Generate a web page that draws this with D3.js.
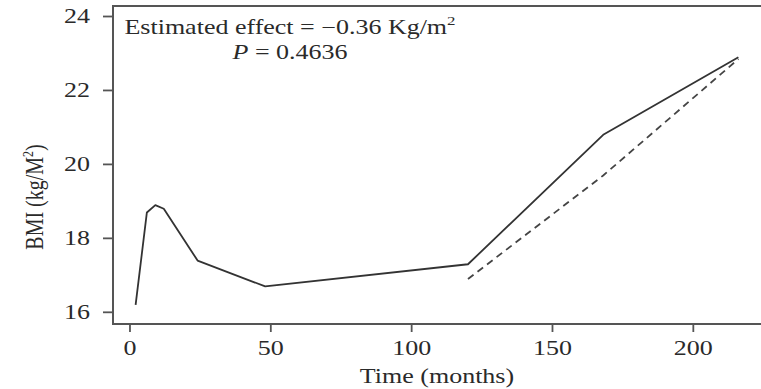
<!DOCTYPE html>
<html>
<head>
<meta charset="utf-8">
<script src="https://cdn.jsdelivr.net/npm/d3@7"></script>
<style>
  html, body { margin: 0; padding: 0; background: #fff; }
  svg { display: block; }
  text { font-family: "Liberation Serif", "DejaVu Serif", serif; fill: #2a2a2a; }
</style>
</head>
<body>
<svg id="chart" width="761" height="389"></svg>
<script>
// ---- data ----
const months = [2, 6, 9, 12, 24, 48, 120, 168, 216];
const bmiObserved = [16.2, 18.7, 18.9, 18.8, 17.4, 16.7, 17.3, 20.8, 22.9];
const projMonths = [120, 168, 216];
const bmiProjected = [16.9, 19.7, 22.85];
const xTicks = [0, 50, 100, 150, 200];
const yTicks = [16, 18, 20, 22, 24];
const xTitle = "Time (months)";
const annotLine1 = "Estimated effect = \u22120.36 Kg/m";
const annotLine2 = " = 0.4636";

(function () {
// ---- layout ----
const W = 761, H = 389;
const pLeft = 113, pRight = 766, pTop = 6, pBottom = 324;
const FS = 20, SX = 1.3;

const svg = d3.select("#chart");
svg.append("rect").attr("width", W).attr("height", H).attr("fill", "#fff");

const x = d3.scaleLinear().domain([-6.56, 224.56]).range([111.5, 762.5]);
const y = d3.scaleLinear().domain([15.684, 24.284]).range([pBottom, pTop]);

// box
svg.append("rect")
  .attr("x", pLeft).attr("y", pTop)
  .attr("width", pRight - pLeft).attr("height", pBottom - pTop)
  .attr("fill", "none").attr("stroke", "#555").attr("stroke-width", 2);

// helper for horizontally-stretched text
function stext(g, tx, ty, anchor) {
  return g.append("text")
    .attr("transform", `translate(${tx},${ty}) scale(${SX},1)`)
    .attr("text-anchor", anchor)
    .attr("font-size", FS);
}

// x axis ticks & labels
const gx = svg.append("g");
xTicks.forEach(t => {
  gx.append("line").attr("x1", x(t)).attr("x2", x(t))
    .attr("y1", pBottom).attr("y2", pBottom + 8)
    .attr("stroke", "#555").attr("stroke-width", 1.8);
  stext(gx, x(t), 355, "middle").text(t);
});

// y axis ticks & labels
const gy = svg.append("g");
yTicks.forEach(t => {
  gy.append("line").attr("x1", pLeft - 10).attr("x2", pLeft)
    .attr("y1", y(t)).attr("y2", y(t))
    .attr("stroke", "#555").attr("stroke-width", 1.8);
  stext(gy, 90, y(t) + 6.5, "end").text(t);
});

// axis titles
stext(svg, 437, 383, "middle").text(xTitle);
const yt = svg.append("text")
  .attr("transform", `translate(43,197) rotate(-90) scale(1,${SX})`)
  .attr("text-anchor", "middle")
  .attr("font-size", FS);
yt.append("tspan").text("BMI (kg/M");
yt.append("tspan").attr("font-size", 12).attr("dy", -8).text("2");
yt.append("tspan").attr("dy", 8).text(")");

// annotation
const a1 = stext(svg, 290, 34, "middle");
a1.append("tspan").text(annotLine1);
a1.append("tspan").attr("font-size", 13).attr("dy", -9).text("2");
const a2 = stext(svg, 290, 59, "middle");
a2.append("tspan").attr("font-style", "italic").text("P");
a2.append("tspan").text(annotLine2);

// lines
const line = d3.line().x(d => x(d[0])).y(d => y(d[1]));
svg.append("path")
  .datum(months.map((m, i) => [m, bmiObserved[i]]))
  .attr("d", line)
  .attr("fill", "none").attr("stroke", "#333").attr("stroke-width", 1.8)
  .attr("stroke-linejoin", "round");
svg.append("path")
  .datum(projMonths.map((m, i) => [m, bmiProjected[i]]))
  .attr("d", line)
  .attr("fill", "none").attr("stroke", "#444").attr("stroke-width", 1.8)
  .attr("stroke-dasharray", "7,5");
})();
</script>
</body>
</html>
